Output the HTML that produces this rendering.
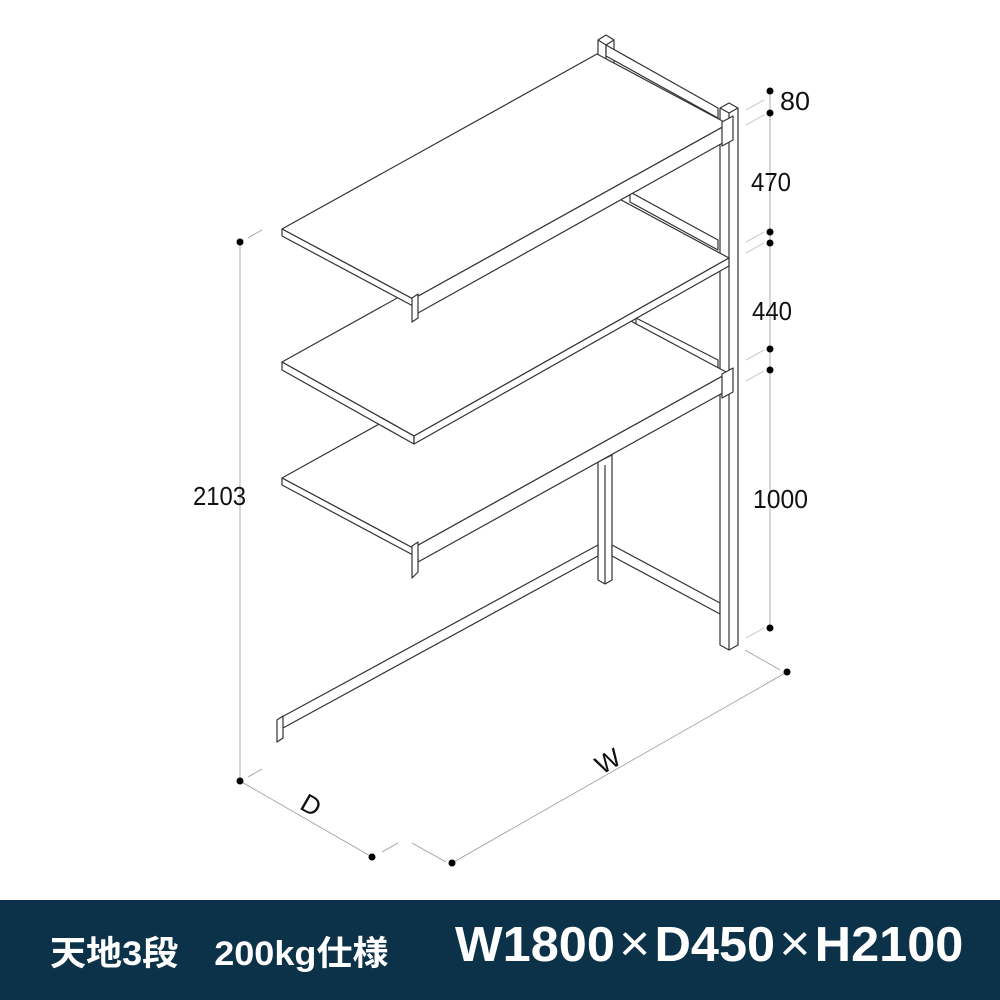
<!DOCTYPE html>
<html><head><meta charset="utf-8"><style>
html,body{margin:0;padding:0;background:#fff;}
#w{position:relative;width:1000px;height:1000px;overflow:hidden;}
svg{position:absolute;left:0;top:0;}
.bar{position:absolute;left:0;top:900px;width:1000px;height:100px;background:#0c3249;}
.t1,.t2{position:absolute;color:#fff;font-family:"Liberation Sans","Noto Sans CJK JP",sans-serif;font-weight:bold;white-space:nowrap;transform-origin:0 0;}
.t1{left:50px;top:926px;font-size:34px;transform:scaleX(1.06);}
.t2{left:455px;top:914px;font-size:49px;transform:scaleX(1.03);}
.t2 span{display:inline-block;margin:0 4px;font-weight:normal;font-size:52px;}
</style></head><body><div id="w">
<svg width="1000" height="1000" viewBox="0 0 1000 1000" fill="#fff" stroke="#333" stroke-width="1.2" stroke-linejoin="round">
<polygon points="598,40 606,35 614,40 614,64 598,64"/>
<line x1="606" y1="45" x2="606" y2="64"/>
<line x1="598" y1="40" x2="606" y2="45"/><line x1="606" y1="45" x2="614" y2="40"/>
<polygon points="606,45 718,108 718,118 606,56"/>
<polygon points="630,192 718,240 718,250 630,202"/>
<polygon points="636,318 718,360 718,370 636,328"/>
<polygon points="598,462 612,455 612,580 605,584 598,580"/>
<line x1="605" y1="465" x2="605" y2="584"/>
<polygon points="612,545 720,603 720,614 612,556"/>
<polygon points="720,108 729,103 738,108 738,645 729,650 720,645"/>
<line x1="729" y1="113" x2="729" y2="650"/>
<line x1="720" y1="108" x2="729" y2="113"/><line x1="729" y1="113" x2="738" y2="108"/>
<polygon points="280,718 598,545 598,556 283,728"/>
<polygon points="277,720 283,716 283,738 277,742"/>
<polygon points="282,478 597,303 728,373 413,548" />
<polygon points="282,478 413,548 413,555 282,485" />
<polygon points="413,548 728,373 728,390 418,562"/>
<polygon points="412,546 418,542 418,572 412,578"/>
<polygon points="722,374 733,368 733,392 722,398"/>
<polygon points="282,362 597,187 729,258 414,436"/>
<polygon points="282,362 414,436 414,444 282,370"/>
<polygon points="414,436 729,258 729,266 414,444"/>
<polygon points="282,229 597,54 728,124 413,299"/>
<polygon points="282,229 413,299 413,306 282,236"/>
<polygon points="413,299 728,124 728,140 418,313"/>
<polygon points="412,298 418,294 418,318 412,322"/>
<polygon points="722,122 733,116 733,140 722,146"/>
<g stroke="#999" stroke-width="0.8" fill="none">
<line x1="240" y1="242" x2="240" y2="781"/>
<line x1="240" y1="781" x2="372" y2="857"/>
<line x1="452" y1="863" x2="787" y2="672"/>
<line x1="770" y1="90" x2="770" y2="628"/>
<line x1="248" y1="238" x2="262" y2="230"/>
<line x1="248" y1="777" x2="262" y2="769"/>
<line x1="382" y1="852" x2="398" y2="843"/>
<line x1="412" y1="843" x2="446" y2="862"/>
<line x1="745" y1="650" x2="780" y2="670"/>
<g stroke="#bbb">
<line x1="746" y1="110" x2="764" y2="100"/><line x1="746" y1="125" x2="764" y2="115"/>
<line x1="746" y1="242" x2="764" y2="232"/><line x1="746" y1="253" x2="764" y2="243"/>
<line x1="746" y1="360" x2="764" y2="350"/><line x1="746" y1="381" x2="764" y2="371"/>
<line x1="746" y1="638" x2="764" y2="628"/>
</g>
</g>
<g fill="#000" stroke="none">
<circle cx="240" cy="242" r="3.5"/><circle cx="240" cy="781" r="3.5"/>
<circle cx="372" cy="857" r="3.5"/><circle cx="452" cy="863" r="3.5"/><circle cx="787" cy="672" r="3.5"/>
<circle cx="770" cy="91" r="3.5"/><circle cx="770" cy="113" r="3.5"/>
<circle cx="770" cy="232" r="3.5"/><circle cx="770" cy="243" r="3.5"/>
<circle cx="770" cy="349" r="3.5"/><circle cx="770" cy="370" r="3.5"/>
<circle cx="770" cy="628" r="3.5"/>
</g>
<g fill="#111" stroke="none" font-family="Liberation Sans, sans-serif" font-size="26">
<text x="193" y="505" textLength="53" lengthAdjust="spacingAndGlyphs">2103</text>
<text x="780" y="110" textLength="30" lengthAdjust="spacingAndGlyphs">80</text>
<text x="751" y="191" textLength="40" lengthAdjust="spacingAndGlyphs">470</text>
<text x="752" y="320" textLength="40" lengthAdjust="spacingAndGlyphs">440</text>
<text x="753" y="508" textLength="55" lengthAdjust="spacingAndGlyphs">1000</text>
<text x="302" y="815" transform="rotate(30 313 805)">D</text>
<text x="595" y="770" transform="rotate(-30 608 760)">W</text>
</g>
</svg>
<div class="bar"></div>
<div class="t1">天地3段　200kg仕様</div>
<div class="t2">W1800<span>×</span>D450<span>×</span>H2100</div>
</div></body></html>
